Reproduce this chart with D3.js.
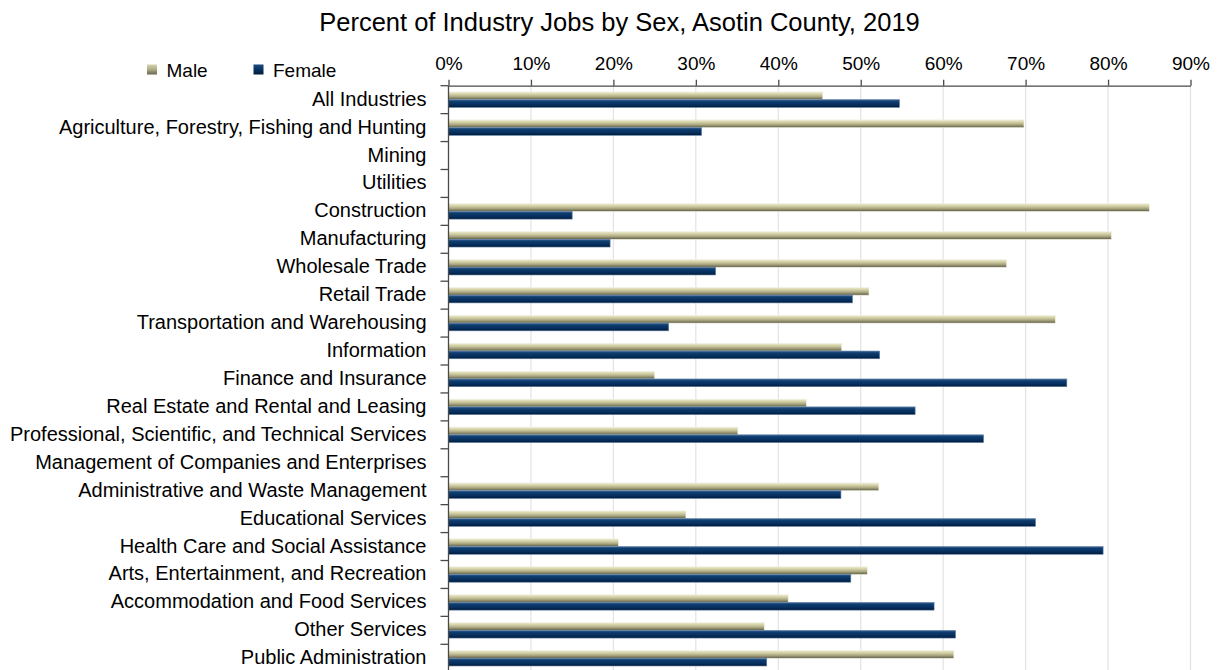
<!DOCTYPE html>
<html>
<head>
<meta charset="utf-8">
<script src="https://cdn.jsdelivr.net/npm/d3@7"></script>
<style>
  html, body { margin: 0; padding: 0; background: #fff; overflow: hidden; }
  svg { display: block; font-family: "Liberation Sans", Arial, sans-serif; }
</style>
</head>
<body>
<svg id="chart" width="1219" height="670"></svg>
<script>
// Industry categories, top to bottom
const categories = [
  "All Industries",
  "Agriculture, Forestry, Fishing and Hunting",
  "Mining",
  "Utilities",
  "Construction",
  "Manufacturing",
  "Wholesale Trade",
  "Retail Trade",
  "Transportation and Warehousing",
  "Information",
  "Finance and Insurance",
  "Real Estate and Rental and Leasing",
  "Professional, Scientific, and Technical Services",
  "Management of Companies and Enterprises",
  "Administrative and Waste Management",
  "Educational Services",
  "Health Care and Social Assistance",
  "Arts, Entertainment, and Recreation",
  "Accommodation and Food Services",
  "Other Services",
  "Public Administration"
];

// Share of jobs held by men / women (percent); null = not reported
const maleValues = [45.4, 69.8, null, null, 85.0, 80.4, 67.7, 51.0, 73.6, 47.7, 25.0,
                    43.4, 35.1, null, 52.2, 28.8, 20.6, 50.8, 41.2, 38.3, 61.3];
const femaleValues = [54.7, 30.7, null, null, 15.0, 19.6, 32.4, 49.0, 26.7, 52.3, 75.0,
                      56.6, 64.9, null, 47.6, 71.2, 79.4, 48.8, 58.9, 61.5, 38.6];

const seriesNames = ["Male", "Female"];
const tickValues = [0, 10, 20, 30, 40, 50, 60, 70, 80, 90];
const titleText = "Percent of Industry Jobs by Sex, Asotin County, 2019";

const svg = d3.select("#chart");
const plot = { left: 448.5, right: 1190.5, top: 85.7 };
const rowStep = 27.93;

// Gradients giving the bars their shaded look
const defs = svg.append("defs");
function addGradient(id, stops) {
  const g = defs.append("linearGradient").attr("id", id)
    .attr("x1", 0).attr("y1", 0).attr("x2", 0).attr("y2", 1);
  stops.forEach(([o, c]) => g.append("stop").attr("offset", o).attr("stop-color", c));
}
addGradient("grad-Male", [["0%", "#ecead0"], ["30%", "#d3d0a6"], ["60%", "#aeab84"], ["100%", "#5e5d46"]]);
addGradient("grad-Female", [["0%", "#3d6694"], ["25%", "#0e3d70"], ["70%", "#052d5b"], ["100%", "#001834"]]);
addGradient("key-Male", [["0%", "#d6d3b0"], ["50%", "#aeab86"], ["100%", "#66654c"]]);
addGradient("key-Female", [["0%", "#1d4a7c"], ["50%", "#083464"], ["100%", "#001a3a"]]);

const x = d3.scaleLinear().domain([0, 90]).range([plot.left, plot.right]);
const y = d3.scaleBand().domain(categories)
  .range([plot.top, plot.top + rowStep * categories.length]).paddingInner(0).paddingOuter(0);
const ySub = d3.scaleBand().domain(seriesNames).range([0, y.bandwidth()])
  .paddingInner(0).paddingOuter(0.81);

// Vertical gridlines
svg.append("g").selectAll("line").data(tickValues.filter(d => d > 0)).join("line")
  .attr("x1", d => x(d)).attr("x2", d => x(d))
  .attr("y1", plot.top).attr("y2", 670)
  .attr("stroke", "#e3e3e3").attr("stroke-width", 1.2);

// Bars
const rows = categories.map((c, i) => ({ cat: c, Male: maleValues[i], Female: femaleValues[i] }));
const barGroup = svg.append("g");
seriesNames.forEach(s => {
  barGroup.selectAll("rect." + s).data(rows.filter(r => r[s] != null)).join("rect")
    .attr("class", s)
    .attr("x", x(0))
    .attr("y", r => y(r.cat) + ySub(s))
    .attr("width", r => x(r[s]) - x(0))
    .attr("height", ySub.bandwidth())
    .attr("fill", `url(#grad-${s})`)
    .attr("stroke", s === "Male" ? "#f1f0e2" : "#5f7fa6")
    .attr("stroke-width", 0.6);
});

// Top value axis
const xAxis = d3.axisTop(x).tickValues(tickValues).tickFormat(d => d + "%")
  .tickSize(6).tickSizeOuter(0);
const gx = svg.append("g").attr("transform", `translate(0,${plot.top})`).call(xAxis);
gx.select(".domain").attr("stroke", "#4a4a4a").attr("stroke-width", 1.3);
gx.selectAll(".tick line").attr("stroke", "#4a4a4a").attr("stroke-width", 1.3);
gx.selectAll(".tick text").attr("font-size", 19).attr("fill", "#000")
  .attr("font-family", "Liberation Sans, Arial, sans-serif").attr("y", -16);

// Left category axis
const yAxis = d3.axisLeft(y).tickSize(0).tickPadding(22);
const gy = svg.append("g").attr("transform", `translate(${plot.left},0)`).call(yAxis);
gy.select(".domain").remove();
gy.selectAll(".tick text").attr("font-size", 20).attr("fill", "#000")
  .attr("font-family", "Liberation Sans, Arial, sans-serif").attr("dy", "0.3em");
svg.append("line").attr("x1", plot.left).attr("x2", plot.left)
  .attr("y1", plot.top).attr("y2", 670).attr("stroke", "#4a4a4a").attr("stroke-width", 1.3);
svg.append("g").selectAll("line").data(d3.range(categories.length + 1)).join("line")
  .attr("x1", plot.left - 8).attr("x2", plot.left)
  .attr("y1", i => plot.top + i * rowStep).attr("y2", i => plot.top + i * rowStep)
  .attr("stroke", "#4a4a4a").attr("stroke-width", 1.3);

// Title
svg.append("text").attr("x", 619.5).attr("y", 31).attr("text-anchor", "middle")
  .attr("font-size", 25.5).attr("fill", "#000").text(titleText);

// Legend
const legendX = [147, 253.5];
const legend = svg.append("g");
seriesNames.forEach((s, i) => {
  legend.append("rect").attr("x", legendX[i]).attr("y", 64.5).attr("width", 10).attr("height", 10)
    .attr("fill", `url(#key-${s})`);
  legend.append("text").attr("x", legendX[i] + 19.5).attr("y", 76.5)
    .attr("font-size", 19).attr("fill", "#000").text(s);
});
</script>
</body>
</html>
